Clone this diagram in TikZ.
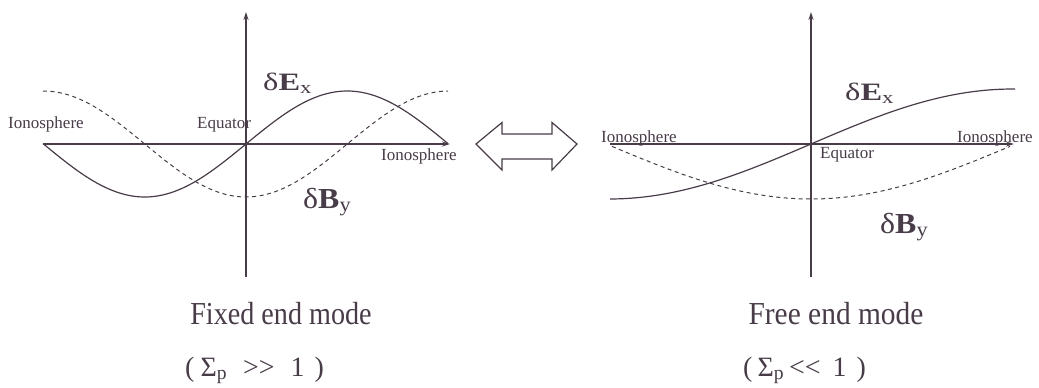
\documentclass[tikz,border=0pt]{standalone}
\usepackage{fontspec}
\setmainfont{Liberation Serif}
\usetikzlibrary{arrows.meta}
\definecolor{ink}{RGB}{72,60,72}
\tikzset{
  axis/.style={draw=ink, line width=1.2pt, -{Stealth[length=8pt,width=5pt]}},
  solidcurve/.style={draw=ink, line width=1.2pt},
  dashcurve/.style={draw=ink, line width=1pt, dash pattern=on 4pt off 3.5pt},
  small/.style={text=ink, inner sep=0pt, anchor=base west, font=\fontsize{17}{20}\selectfont},
  field/.style={text=ink, inner sep=0pt, anchor=base west},
  caption/.style={text=ink, inner sep=0pt, anchor=base, font=\fontsize{32}{36}\selectfont},
  subcap/.style={text=ink, inner sep=0pt, anchor=base west, font=\fontsize{28}{32}\selectfont},
  dblarrow/.style={draw=ink, line width=1.2pt, line join=miter}
}
\begin{document}
\begin{tikzpicture}[x=1pt,y=-1pt]
\useasboundingbox (0,0) rectangle (1039,388);
% ---------- left panel ----------
\coordinate (L0) at (43,144);
\coordinate (L1) at (450,144);
\coordinate (LT) at (246,12);
\coordinate (LB) at (246,277);
\draw[axis] (L0) -- (L1);
\draw[axis] (LB) -- (LT);
\draw[solidcurve] plot[domain=43:448, samples=120] (\x, {144 - 53*sin((\x-246)*0.88889)});
\draw[dashcurve] plot[domain=43:448, samples=120] (\x, {144 + 53*cos((\x-246)*0.88889)});
\node[small] (ionoL1) at (8,128) {Ionosphere};
\node[small] (eqL) at (197,128) {Equator};
\node[small] (ionoL2) at (381,160) {Ionosphere};
\node[field] (exL) at (263,90) {\scalebox{1.3}[1]{\fontsize{25}{28}\selectfont δ\textbf{E}\textsubscript{x}}};
\node[field] (byL) at (303,208) {\scalebox{1.1}[1]{\fontsize{29}{32}\selectfont δ\textbf{B}\textsubscript{y}}};
\node[caption] (capL1) at (281,324) {\scalebox{0.88}[1]{Fixed end mode}};
\node[subcap] (capL2) at (185,376) {(\hspace{6pt}Σ\textsubscript{p}\hspace{16pt}>{}>\hspace{16pt}1\hspace{10pt})};
% ---------- double arrow ----------
\draw[dblarrow] (476,144) -- (502,122.5) -- (502,134) -- (552,134) -- (552,122.5) -- (577,144)
  -- (552,170) -- (552,159) -- (502,159) -- (502,170) -- cycle;
% ---------- right panel ----------
\coordinate (R0) at (610,144);
\coordinate (R1) at (1014,144);
\coordinate (RT) at (811,12);
\coordinate (RB) at (811,277);
\draw[axis] (R0) -- (R1);
\draw[axis] (RB) -- (RT);
\draw[solidcurve] plot[domain=610:1015, samples=120] (\x, {144 - 55*sin((\x-811)*0.44554)});
\draw[dashcurve] plot[domain=612:1010, samples=120] (\x, {146 + 53*cos((\x-811)*0.45)});
\node[small] (ionoR1) at (601,142) {Ionosphere};
\node[small] (eqR) at (820,158) {Equator};
\node[small] (ionoR2) at (957,142) {Ionosphere};
\node[field] (exR) at (845,100) {\scalebox{1.3}[1]{\fontsize{25}{28}\selectfont δ\textbf{E}\textsubscript{x}}};
\node[field] (byR) at (880,233) {\scalebox{1.1}[1]{\fontsize{29}{32}\selectfont δ\textbf{B}\textsubscript{y}}};
\node[caption] (capR1) at (836,324) {\scalebox{0.92}[1]{Free end mode}};
\node[subcap] (capR2) at (743,376) {(\hspace{5pt}Σ\textsubscript{p}\hspace{5pt}<{}<\hspace{12pt}1\hspace{10pt})};
\end{tikzpicture}
\end{document}
